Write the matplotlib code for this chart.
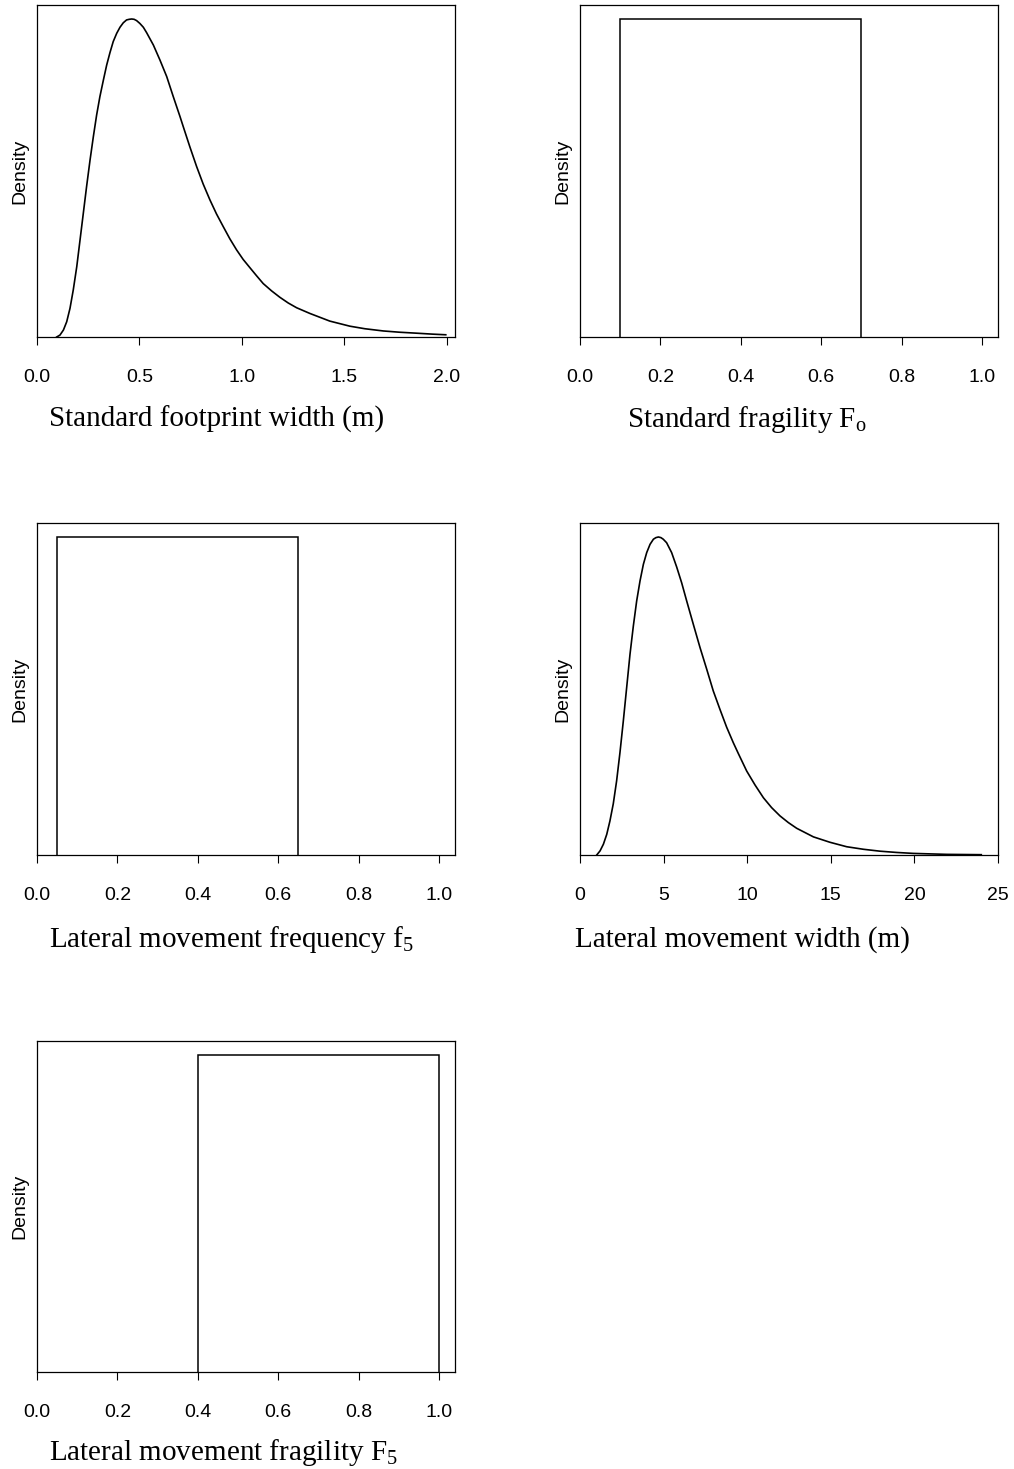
import matplotlib
matplotlib.use("Agg")
import matplotlib.pyplot as plt

plt.rcParams['mathtext.fontset'] = 'custom'
plt.rcParams['mathtext.rm'] = 'Liberation Serif'
plt.rcParams['mathtext.it'] = 'Liberation Serif:italic'

# ---------------- data (relative density, peak = 1) ----------------
footprint_x = [0.096, 0.112, 0.129, 0.145, 0.161, 0.177, 0.194, 0.210, 0.226, 0.242,
               0.259, 0.275, 0.291, 0.307, 0.324, 0.340, 0.356, 0.372, 0.389, 0.405,
               0.421, 0.437, 0.450, 0.462, 0.474, 0.486, 0.502, 0.519, 0.535, 0.568,
               0.600, 0.633, 0.665, 0.698, 0.714, 0.746, 0.779, 0.811, 0.844, 0.876,
               0.909, 0.941, 0.974, 1.006, 1.039, 1.071, 1.104, 1.145, 1.185, 1.226,
               1.267, 1.332, 1.429, 1.527, 1.600, 1.690, 1.770, 1.852, 1.930, 1.995]
footprint_y = [0.000, 0.006, 0.022, 0.048, 0.090, 0.148, 0.221, 0.305, 0.389, 0.473,
               0.557, 0.630, 0.698, 0.756, 0.808, 0.855, 0.894, 0.929, 0.955, 0.974,
               0.988, 0.997, 0.999, 1.000, 0.999, 0.995, 0.986, 0.974, 0.957, 0.918,
               0.871, 0.819, 0.756, 0.693, 0.661, 0.598, 0.536, 0.481, 0.431, 0.387,
               0.347, 0.309, 0.274, 0.244, 0.218, 0.193, 0.168, 0.145, 0.125, 0.107,
               0.092, 0.074, 0.050, 0.034, 0.026, 0.019, 0.015, 0.012, 0.009, 0.007]

lat_width_x = [1.00, 1.20, 1.40, 1.60, 1.79, 1.99, 2.19, 2.39, 2.59, 2.79,
               2.99, 3.19, 3.39, 3.59, 3.79, 3.99, 4.19, 4.39, 4.54, 4.69,
               4.84, 4.98, 5.18, 5.48, 5.78, 6.08, 6.38, 6.78, 7.18, 7.58,
               7.97, 8.37, 8.77, 9.17, 9.47, 9.97, 10.47, 10.97, 11.46, 11.96,
               12.46, 12.96, 13.96, 14.95, 15.95, 16.95, 17.94, 18.94, 19.94, 21.93,
               24.00]
lat_width_y = [0.000, 0.013, 0.034, 0.065, 0.107, 0.161, 0.233, 0.322, 0.421, 0.526,
               0.631, 0.720, 0.799, 0.862, 0.914, 0.951, 0.977, 0.993, 0.998, 1.000,
               0.998, 0.993, 0.982, 0.951, 0.906, 0.856, 0.799, 0.725, 0.652, 0.584,
               0.516, 0.458, 0.402, 0.353, 0.319, 0.264, 0.220, 0.180, 0.149, 0.123,
               0.102, 0.084, 0.057, 0.040, 0.026, 0.018, 0.012, 0.008, 0.005, 0.002,
               0.001]

std_fragility_range = [0.10, 0.70]
lat_freq_range = [0.05, 0.65]
lat_fragility_range = [0.40, 1.00]
uniform_height = 1.0

ticks_01 = [0.0, 0.2, 0.4, 0.6, 0.8, 1.0]
ticklabels_01 = ["0.0", "0.2", "0.4", "0.6", "0.8", "1.0"]
ticks_fp = [0.0, 0.5, 1.0, 1.5, 2.0]
ticklabels_fp = ["0.0", "0.5", "1.0", "1.5", "2.0"]
ticks_lw = [0, 5, 10, 15, 20, 25]
ticklabels_lw = ["0", "5", "10", "15", "20", "25"]

xlabels = ["Standard footprint width (m)",
           r"Standard fragility F$_{\mathrm{o}}$",
           r"Lateral movement frequency f$_{\mathrm{5}}$",
           "Lateral movement width (m)",
           r"Lateral movement fragility F$_{\mathrm{5}}$"]

# ---------------- layout ----------------
W, H = 1014, 1469
fig = plt.figure(figsize=(W / 100, H / 100), dpi=100)
fig.patch.set_facecolor("white")

SANS = "Liberation Sans"
SERIF = "Liberation Serif"

def make_ax(L, R, T, B):
    return fig.add_axes([L / W, 1 - B / H, (R - L) / W, (B - T) / H])

boxes = [(37, 455, 5, 337), (580, 998, 5, 337),
         (37, 455, 523, 855), (580, 998, 523, 855),
         (37, 455, 1041, 1372)]
label_pos = [(49, 427), (627, 427), (49, 947), (575, 947), (49, 1460)]

axes = [make_ax(*b) for b in boxes]

def style(ax, ticks, labels, xlim):
    ax.set_xlim(*xlim)
    ax.set_ylim(0, 1.044)
    ax.set_yticks([])
    ax.set_xticks(ticks)
    ax.set_xticklabels(labels, fontfamily=SANS, fontsize=14)
    ax.tick_params(axis='x', direction='out', length=6, width=0.8, pad=17, colors='black')
    for s in ax.spines.values():
        s.set_linewidth(0.9)
        s.set_color('black')

def uniform(ax, rng):
    ax.plot([rng[0], rng[0], rng[1], rng[1]], [0, uniform_height, uniform_height, 0],
            color='black', lw=1.1, solid_joinstyle='miter')

ax = axes[0]
ax.plot(footprint_x, footprint_y, color='black', lw=1.2, solid_joinstyle='round')
style(ax, ticks_fp, ticklabels_fp, (0, 2.04))

ax = axes[1]
uniform(ax, std_fragility_range)
style(ax, ticks_01, ticklabels_01, (0, 1.04))

ax = axes[2]
uniform(ax, lat_freq_range)
style(ax, ticks_01, ticklabels_01, (0, 1.04))

ax = axes[3]
ax.plot(lat_width_x, lat_width_y, color='black', lw=1.2, solid_joinstyle='round')
style(ax, ticks_lw, ticklabels_lw, (0, 25))

ax = axes[4]
uniform(ax, lat_fragility_range)
style(ax, ticks_01, ticklabels_01, (0, 1.04))

for (L, R, T, B), (lx, ly), lab in zip(boxes, label_pos, xlabels):
    fig.text((L - 17) / W, 1 - ((T + B) / 2) / H, "Density", rotation=90,
             ha='center', va='center', fontfamily=SANS, fontsize=14)
    fig.text(lx / W, 1 - ly / H, lab, ha='left', va='baseline',
             fontfamily=SERIF, fontsize=21)

fig.savefig("out.png", dpi=100, facecolor="white")
